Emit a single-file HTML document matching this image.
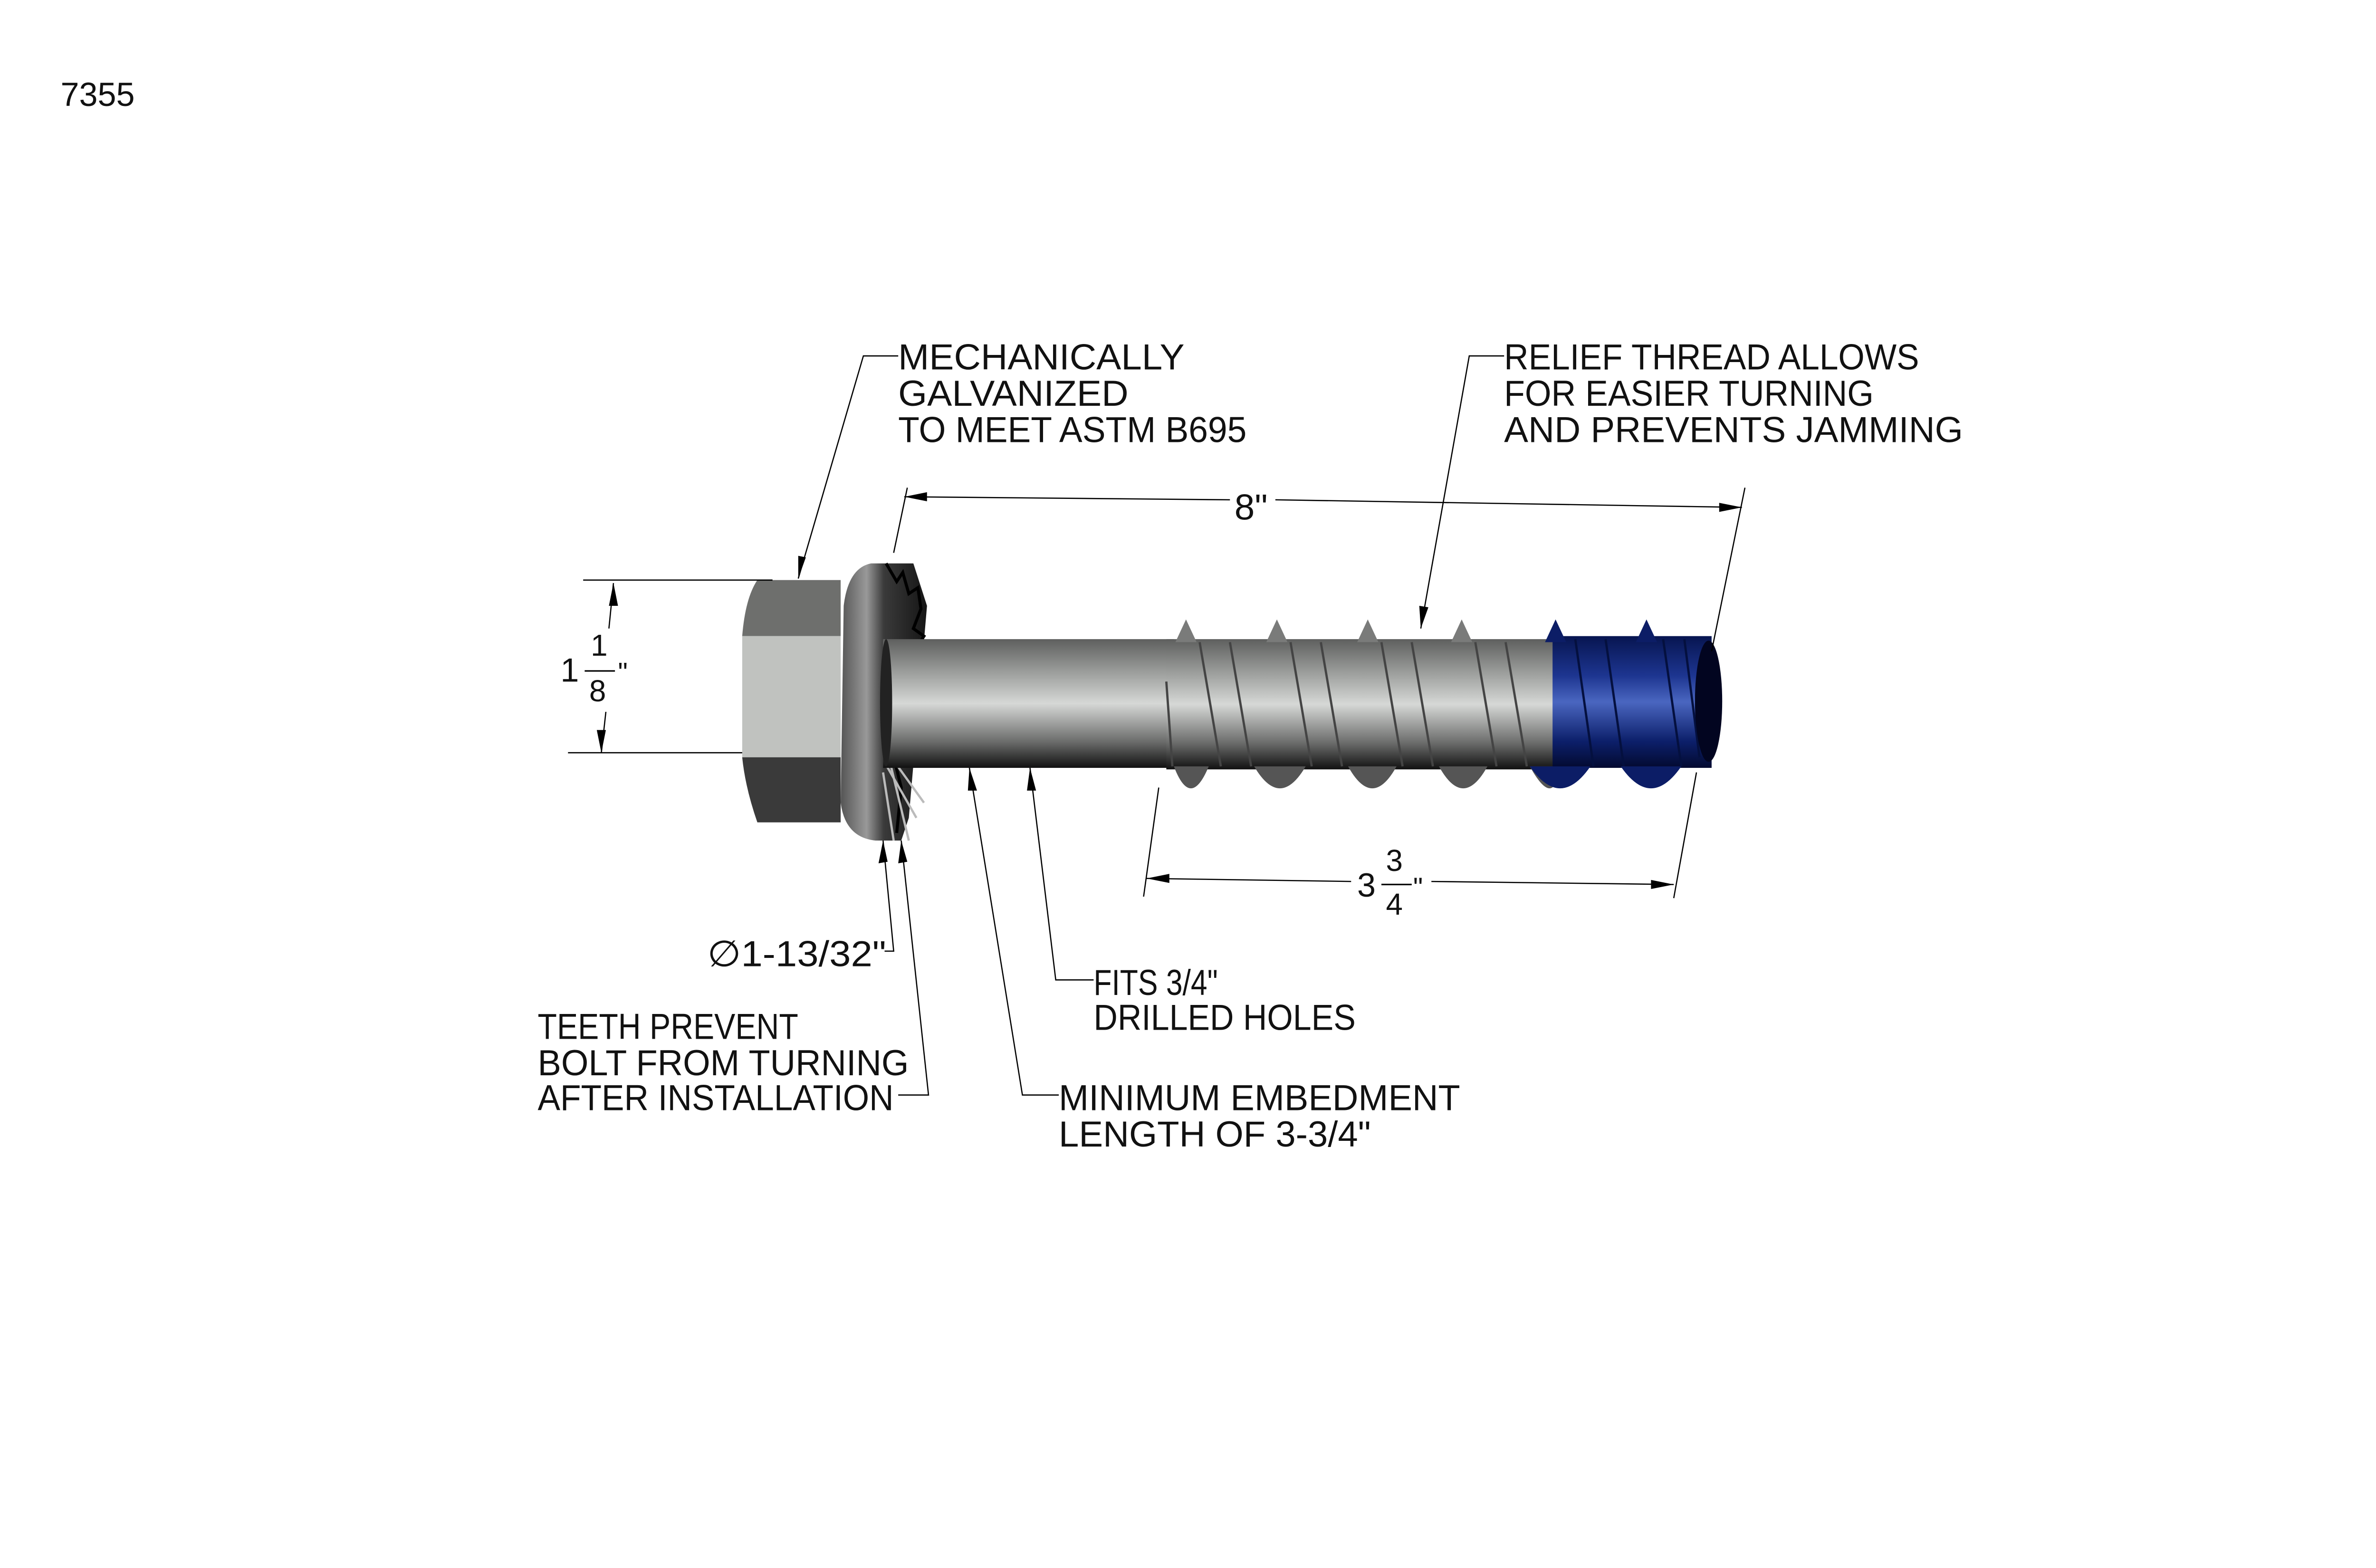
<!DOCTYPE html>
<html><head><meta charset="utf-8"><style>
html,body{margin:0;padding:0;background:#fff;}
svg{display:block;}
text{font-family:"Liberation Sans",sans-serif;fill:#111;}
</style></head><body>
<svg width="5100" height="3300" viewBox="0 0 1600 1035.3" preserveAspectRatio="none" xmlns="http://www.w3.org/2000/svg">
<defs>
<linearGradient id="sh" x1="0" y1="0" x2="0" y2="1">
<stop offset="0" stop-color="#5e5f5e"/><stop offset="0.25" stop-color="#9a9c9a"/><stop offset="0.5" stop-color="#d6d8d6"/><stop offset="0.8" stop-color="#6a6b6a"/><stop offset="1" stop-color="#111"/></linearGradient>
<linearGradient id="bl" x1="0" y1="0" x2="0" y2="1">
<stop offset="0" stop-color="#071550"/><stop offset="0.3" stop-color="#1d3590"/><stop offset="0.5" stop-color="#4a66c0"/><stop offset="0.8" stop-color="#0c1f6a"/><stop offset="1" stop-color="#030a30"/></linearGradient>
<linearGradient id="fl" x1="0" y1="0" x2="1" y2="0">
<stop offset="0" stop-color="#555"/><stop offset="0.3" stop-color="#999"/><stop offset="0.5" stop-color="#3a3a3a"/><stop offset="1" stop-color="#151515"/></linearGradient>
</defs>
<rect width="1600" height="1035.3" fill="#fff"/>
<text x="40" y="70" font-size="22">7355</text>

<path d="M575,372 Q560,375 557,400 L555,530 Q558,553 578,555 L595,555 L600,540 L612,400 L603,372 Z" fill="url(#fl)"/>
<path d="M585,372 L592,384 L596,378 L600,392 L606,388 L608,402 L603,415 L610,420 L600,435 L605,445 L595,460 L600,470 L592,480 L590,500 L595,520 L592,550" fill="none" stroke="#000" stroke-width="2"/>
<g stroke="#bbb" stroke-width="1.5"><line x1="585" y1="505" x2="605" y2="540"/><line x1="588" y1="505" x2="600" y2="555"/><line x1="592" y1="505" x2="610" y2="530"/><line x1="583" y1="510" x2="590" y2="555"/></g>
<path d="M500,383 L555,383 L555,420 L490,420 Q492,395 500,383 Z" fill="#6e6f6d"/>
<rect x="490" y="420" width="65" height="80" fill="#c0c2bf"/>
<path d="M490,500 L555,500 L555,543 L500,543 Q492,520 490,500 Z" fill="#3a3a3a"/>
<rect x="583" y="422" width="192" height="85" fill="url(#sh)"/>
<ellipse cx="585" cy="464" rx="4" ry="42" fill="#222"/>
<rect x="770" y="422" width="258" height="86" fill="url(#sh)"/>
<g fill="#7a7b7a">
<path d="M776,424 L783,409 L790,424Z"/><path d="M836,424 L843,409 L850,424Z"/><path d="M896,424 L903,409 L910,424Z"/><path d="M958,424 L965,409 L972,424Z"/></g>
<g fill="#555"><path d="M775,506 Q786,535 798,506Z"/><path d="M828,506 Q845,535 862,506Z"/><path d="M890,506 Q906,535 922,506Z"/><path d="M950,506 Q966,535 982,506Z"/><path d="M1010,506 Q1026,535 1030,506Z"/></g>
<g stroke="#444" stroke-width="1.5" fill="none">
<path d="M792,424 L806,506"/><path d="M812,424 L826,506"/><path d="M852,424 L866,506"/><path d="M872,424 L886,506"/><path d="M912,424 L926,506"/><path d="M932,424 L946,506"/><path d="M974,424 L988,506"/><path d="M994,424 L1008,506"/><path d="M770,450 L774,506"/></g>
<rect x="1025" y="420" width="105" height="87" fill="url(#bl)"/>
<g fill="#0c1d66"><path d="M1020,424 L1027,409 L1034,424Z"/><path d="M1080,424 L1087,409 L1094,424Z"/><path d="M1010,506 Q1030,535 1050,506Z"/><path d="M1070,506 Q1090,535 1110,506Z"/></g>
<g stroke="#04103f" stroke-width="1.5"><path d="M1040,422 L1052,506"/><path d="M1060,422 L1072,506"/><path d="M1098,422 L1110,506"/><path d="M1112,422 L1122,500"/></g>
<ellipse cx="1128" cy="463" rx="9" ry="40" fill="#020520"/>

<g stroke="#000" stroke-width="0.8" fill="none">
<line x1="597" y1="328" x2="812" y2="330"/><line x1="842" y1="330" x2="1150" y2="335"/>
<line x1="599" y1="322" x2="590" y2="365"/><line x1="1152" y1="322" x2="1130" y2="430"/>
<line x1="385" y1="383" x2="510" y2="383"/><line x1="375" y1="497" x2="490" y2="497"/>
<line x1="405" y1="385" x2="402" y2="415"/><line x1="400" y1="470" x2="397" y2="497"/>
<line x1="757" y1="580" x2="892" y2="582"/><line x1="945" y1="582" x2="1105" y2="584"/>
<line x1="765" y1="520" x2="755" y2="592"/><line x1="1120" y1="510" x2="1105" y2="593"/>
<polyline points="593,235 570,235 527,382"/>
<polyline points="993,235 970,235 938,415"/>
<polyline points="722,647 697,647 680,507"/>
<polyline points="699,723 675,723 640,507"/>
<polyline points="583,555 590,628 584,628"/>
<polyline points="595,555 613,723 593,723"/>
</g>
<g fill="#000">
<path d="M597,328 L612,325 L612,331Z"/><path d="M1150,335 L1135,332 L1135,338Z"/>
<path d="M405,385 L402,400 L408,400Z"/><path d="M397,497 L394,482 L400,482Z"/>
<path d="M757,580 L772,577 L772,583Z"/><path d="M1105,584 L1090,581 L1090,587Z"/>
<path d="M527,382 L527,367 L532,368Z"/><path d="M938,415 L937,400 L943,401Z"/>
<path d="M680,507 L678,522 L684,522Z"/><path d="M640,507 L639,522 L645,522Z"/>
<path d="M583,555 L580,570 L586,569Z"/><path d="M595,555 L593,570 L599,569Z"/>
</g>
<text x="815" y="343" font-size="24">8"</text>
<text x="370" y="450" font-size="22">1</text>
<text x="390" y="433" font-size="20">1</text><line x1="386" y1="443" x2="406" y2="443" stroke="#000" stroke-width="1"/>
<text x="389" y="463" font-size="20">8</text><text x="408" y="450" font-size="18">"</text>
<text x="896" y="592" font-size="22">3</text>
<text x="915" y="575" font-size="20">3</text><line x1="912" y1="584" x2="932" y2="584" stroke="#000" stroke-width="1"/>
<text x="915" y="604" font-size="20">4</text><text x="933" y="592" font-size="18">"</text>
<text x="467" y="638" font-size="24" textLength="118" lengthAdjust="spacingAndGlyphs">∅1-13/32"</text>

<g font-size="24">
<text x="593" y="244" textLength="189" lengthAdjust="spacingAndGlyphs">MECHANICALLY</text>
<text x="593" y="268" textLength="152" lengthAdjust="spacingAndGlyphs">GALVANIZED</text>
<text x="593" y="292" textLength="230" lengthAdjust="spacingAndGlyphs">TO MEET ASTM B695</text>
<text x="993" y="244" textLength="274" lengthAdjust="spacingAndGlyphs">RELIEF THREAD ALLOWS</text>
<text x="993" y="268" textLength="244" lengthAdjust="spacingAndGlyphs">FOR EASIER TURNING</text>
<text x="993" y="292" textLength="303" lengthAdjust="spacingAndGlyphs">AND PREVENTS JAMMING</text>
<text x="722" y="657" textLength="82" lengthAdjust="spacingAndGlyphs">FITS 3/4"</text>
<text x="722" y="680" textLength="173" lengthAdjust="spacingAndGlyphs">DRILLED HOLES</text>
<text x="355" y="686" textLength="172" lengthAdjust="spacingAndGlyphs">TEETH PREVENT</text>
<text x="355" y="710" textLength="245" lengthAdjust="spacingAndGlyphs">BOLT FROM TURNING</text>
<text x="355" y="733" textLength="235" lengthAdjust="spacingAndGlyphs">AFTER INSTALLATION</text>
<text x="699" y="733" textLength="265" lengthAdjust="spacingAndGlyphs">MINIMUM EMBEDMENT</text>
<text x="699" y="757" textLength="206" lengthAdjust="spacingAndGlyphs">LENGTH OF 3-3/4"</text>
</g>
</svg>
</body></html>
